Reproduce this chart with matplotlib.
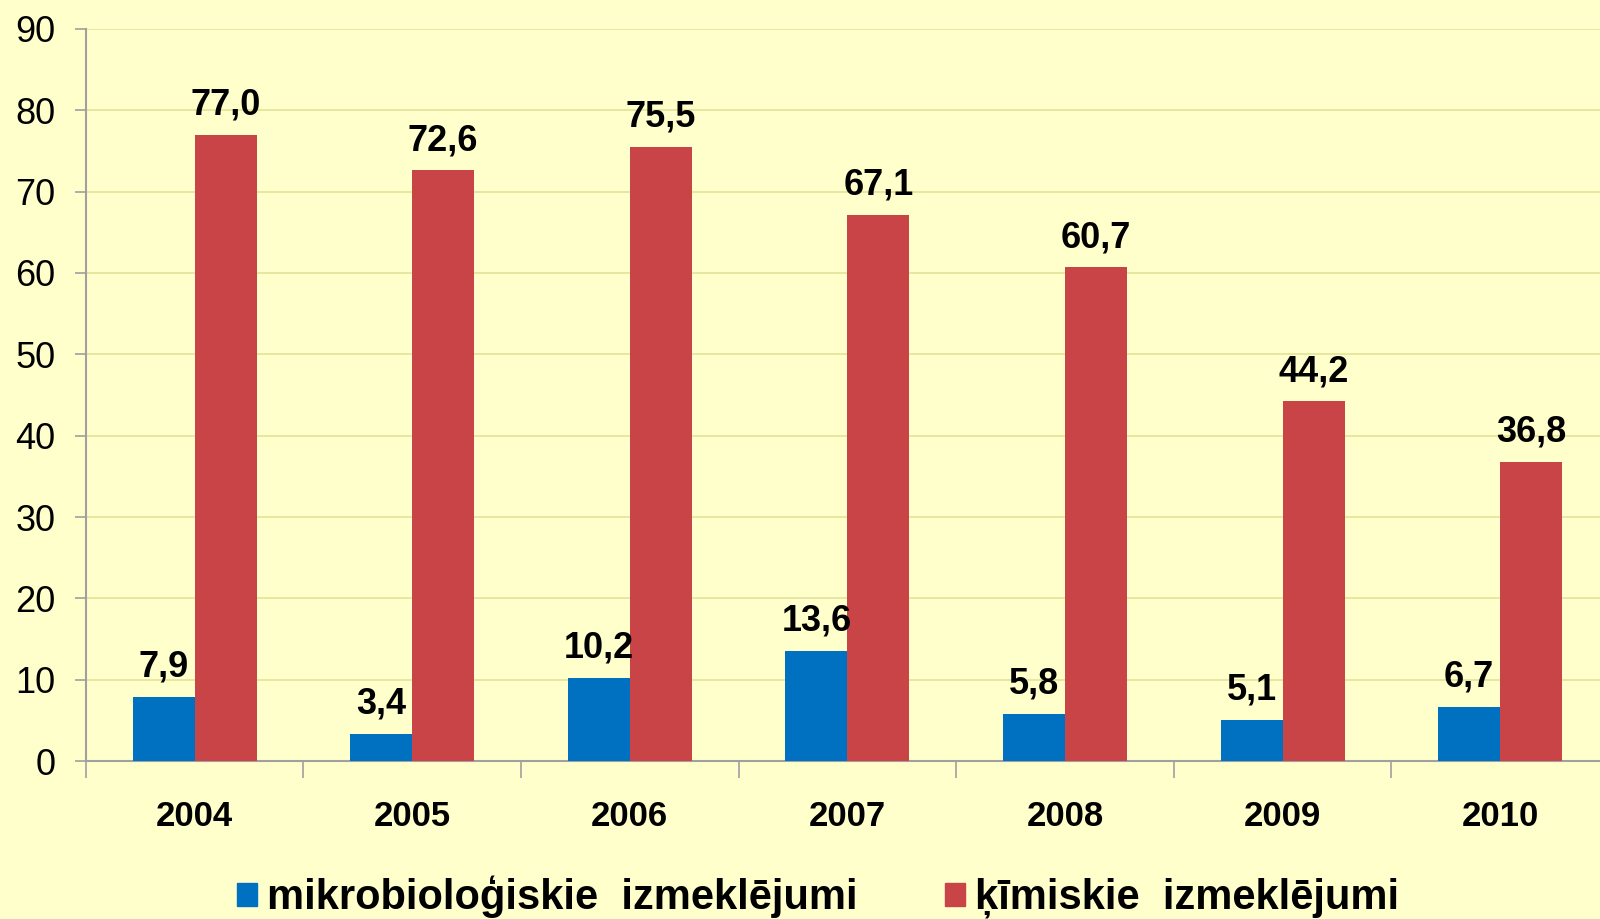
import numpy as np
import matplotlib
matplotlib.use("Agg")
import matplotlib.pyplot as plt
from matplotlib.patches import Patch

years = ["2004", "2005", "2006", "2007", "2008", "2009", "2010"]
mikro = [7.9, 3.4, 10.2, 13.6, 5.8, 5.1, 6.7]
kimis = [77.0, 72.6, 75.5, 67.1, 60.7, 44.2, 36.8]
series_names = ["mikrobioloģiskie  izmeklējumi", "ķīmiskie  izmeklējumi"]

bg = "#FFFFCC"
blue = "#0070C0"
red = "#C84446"
plt.rcParams['font.family'] = ['Liberation Sans', 'DejaVu Sans']

fig = plt.figure(figsize=(16, 9.19), dpi=100, facecolor=bg)
ax = fig.add_axes([0.0536, 0.1717, 0.952, 0.797])
ax.set_facecolor(bg)

x = np.arange(len(years))
w = 0.285
b1 = ax.bar(x - w / 2, mikro, w, color=blue, zorder=3)
b2 = ax.bar(x + w / 2, kimis, w, color=red, zorder=3)

def fmt(v):
    return ("%.1f" % v).replace(".", ",")

for bars, vals in ((b1, mikro), (b2, kimis)):
    for r, v in zip(bars, vals):
        ax.text(r.get_x() + r.get_width() / 2, v + 1.5, fmt(v), ha='center', va='bottom',
                fontsize=26, fontweight='bold', zorder=4)

ax.set_xlim(-0.5, len(years) - 0.5)
ax.set_ylim(0, 90)
ax.set_yticks(range(0, 91, 10))
ax.yaxis.grid(True, color="#E3E39A", linewidth=1.2, zorder=0)
ax.tick_params(axis='y', labelsize=26, length=8, color="#A0A0A0", width=1.2, pad=14)

ax.set_xticks(x)
ax.set_xticklabels(years, fontsize=25, fontweight='bold')
ax.set_xticks(np.arange(len(years) + 1) - 0.5, minor=True)
ax.tick_params(axis='x', which='major', length=0, pad=28)
ax.tick_params(axis='x', which='minor', length=12, color="#A0A0A0", width=1.2)

for s in ['top', 'right']:
    ax.spines[s].set_visible(False)
for s in ['left', 'bottom']:
    ax.spines[s].set_color("#A0A0A0")
    ax.spines[s].set_linewidth(1.5)

handles = [Patch(color=blue), Patch(color=red)]
fig.legend(handles, series_names, loc='center left', bbox_to_anchor=(237 / 1600, 1 - 897 / 919), ncol=2,
           frameon=False, prop={'size': 30, 'weight': 'bold'}, handlelength=0.48,
           handleheight=0.48, handletextpad=0.24, columnspacing=2.1,
           borderpad=0, borderaxespad=0)

fig.savefig("out.png", dpi=100, facecolor=bg)
